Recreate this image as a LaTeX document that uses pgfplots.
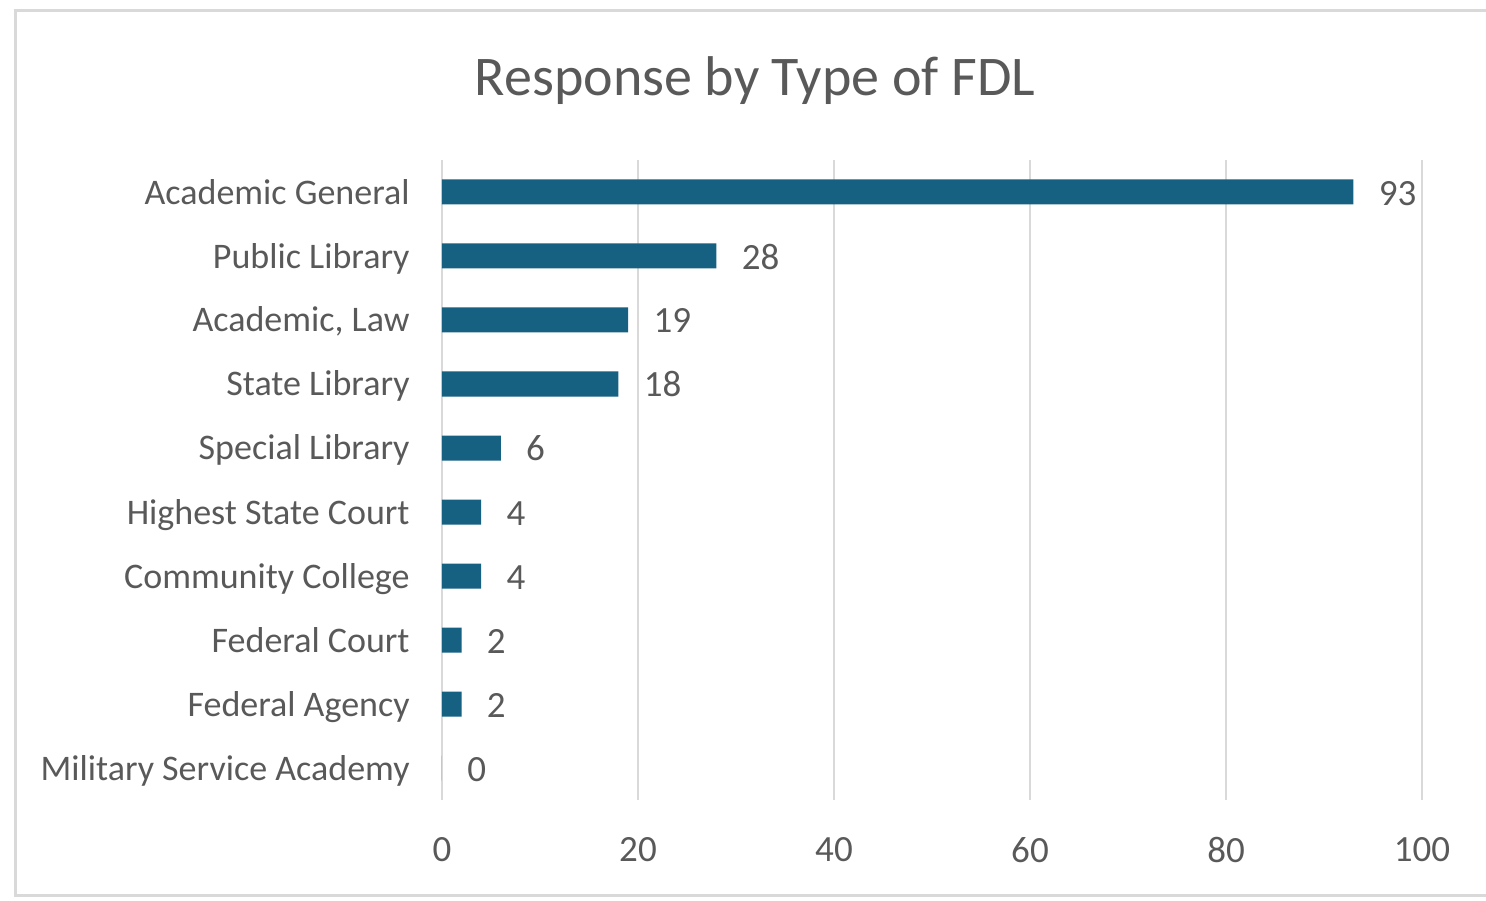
\documentclass[border=0pt]{standalone}
\usepackage{pgfplots}
\pgfplotsset{compat=1.18}
\usepackage{fontspec}
\setmainfont{Carlito}
\definecolor{barc}{RGB}{22,96,130}
\definecolor{txt}{RGB}{89,89,89}
\definecolor{grd}{RGB}{217,217,217}
\begin{document}
\begin{tikzpicture}
\begin{axis}[
  name=ax,
  scale only axis,
  width=490bp, height=320bp,
  xbar, bar width=12.5bp,
  xmin=0, xmax=100,
  ymin=-0.5, ymax=9.5,
  xtick={0,20,40,60,80,100},
  ytick={0,...,9},
  yticklabels={Military Service Academy, Federal Agency, Federal Court, Community College, Highest State Court, Special Library, State Library, {Academic, Law}, Public Library, Academic General},
  axis line style={draw=none},
  xmajorgrids, grid style={grd, line width=1.2bp},
  major tick length=0pt,
  extra x ticks={0}, extra x tick labels={}, extra x tick style={grid style={grd, line width=1.2bp}},
  tick label style={font=\fontsize{18.5bp}{20bp}\selectfont, text=txt},
  /pgf/number format/assume math mode=true,
  xticklabel style={inner sep=0pt, anchor=north, yshift=-18.5bp},
  yticklabel style={font=\fontsize{18bp}{20bp}\selectfont, inner sep=0pt, anchor=base east, xshift=-16bp, yshift=-6bp},
  nodes near coords,
  nodes near coords style={font=\fontsize{18.5bp}{20bp}\selectfont, text=txt, anchor=base west, inner sep=0pt, xshift=12.5bp, yshift=-6.5bp},
]
\addplot[fill=barc, draw=none] coordinates {
(0,0) (2,1) (2,2) (4,3) (4,4) (6,5) (18,6) (19,7) (28,8) (93,9)};
\end{axis}
\useasboundingbox ([xshift=-221bp,yshift=-50.5bp]ax.south west) rectangle ([xshift=522bp,yshift=400bp]ax.south west);
\draw[grd, line width=1.5bp] ([xshift=-213.3bp,yshift=-47.5bp]ax.south west) rectangle ([xshift=540bp,yshift=394.8bp]ax.south west);
\node[text=txt, font=\fontsize{28bp}{30bp}\selectfont, inner sep=0pt, anchor=center] at ([xshift=156.5bp,yshift=359.5bp]ax.south west) {\vphantom{R}Response by Type of FDL};
\end{tikzpicture}
\end{document}
